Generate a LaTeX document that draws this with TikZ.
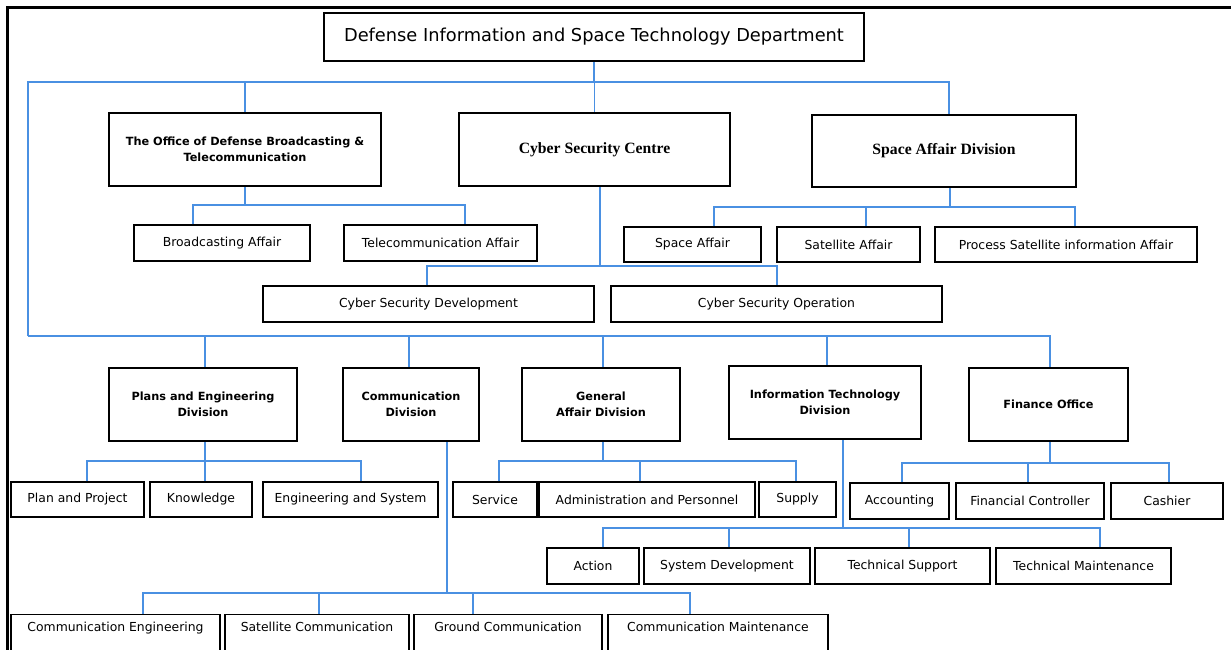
\documentclass[tikz,border=0pt]{standalone}
\usepackage{fontspec}
\setmainfont{DejaVu Sans}
\newfontfamily\serifbold{Liberation Serif}
\definecolor{linkblue}{RGB}{74,144,226}
\begin{document}
\begin{tikzpicture}[x=1pt,y=-1pt,
  conn/.style={draw=linkblue,line width=1.4pt},
  titlebox/.style={draw,line width=2.4pt,inner sep=0pt,font=\fontsize{17.8}{20}\selectfont},
  headbox/.style={draw,line width=2.4pt,inner sep=0pt,align=center,font=\fontsize{11.3}{16.5}\selectfont\bfseries},
  serifhead/.style={draw,line width=2.4pt,inner sep=0pt,align=center,font=\fontsize{15.7}{17}\selectfont\serifbold\bfseries},
  subbox/.style={draw,line width=1.1pt,inner sep=0pt,font=\fontsize{12.4}{14}\selectfont},
  lowbox/.style={draw,line width=1.1pt,inner xsep=0pt,inner ysep=9pt,anchor=north,text height=8pt,text depth=40pt,font=\fontsize{12.4}{14}\selectfont}]
\useasboundingbox (0,0) rectangle (1231,649);
\clip (0,0) rectangle (1231,649);
% frame
\draw[line width=3pt] (7.5,652) -- (7.5,7.5) -- (1233,7.5);
% boxes
\node[titlebox,minimum width=540pt,minimum height=48pt] (title) at (594,37) {\raisebox{3pt}{Defense Information and Space Technology Department}};
\node[headbox,minimum width=272pt,minimum height=73pt] (office) at (245,149.5) {The Office of Defense Broadcasting \&\\Telecommunication};
\node[serifhead,minimum width=271pt,minimum height=73pt] (cyber) at (594.5,149.5) {Cyber Security Centre};
\node[serifhead,minimum width=264pt,minimum height=72pt] (space) at (944,151) {Space Affair Division};
\node[subbox,minimum width=176pt,minimum height=36pt] (broad) at (222,243) {Broadcasting Affair};
\node[subbox,minimum width=193pt,minimum height=36pt] (telecom) at (440.5,243) {Telecommunication Affair};
\node[subbox,minimum width=137pt,minimum height=35pt] (spaceA) at (692.5,244.5) {Space Affair};
\node[subbox,minimum width=143pt,minimum height=35pt] (satA) at (848.5,244.5) {Satellite Affair};
\node[subbox,minimum width=262pt,minimum height=35pt] (proc) at (1066,244.5) {Process Satellite information Affair};
\node[subbox,minimum width=331pt,minimum height=36pt] (csd) at (428.5,304) {Cyber Security Development};
\node[subbox,minimum width=331pt,minimum height=36pt] (cso) at (776.5,304) {Cyber Security Operation};
\node[headbox,minimum width=188pt,minimum height=73pt] (plans) at (203,404.5) {Plans and Engineering\\Division};
\node[headbox,minimum width=136pt,minimum height=73pt] (comm) at (411,404.5) {Communication\\Division};
\node[headbox,minimum width=158pt,minimum height=73pt] (gen) at (601,404.5) {General\\Affair Division};
\node[headbox,minimum width=192pt,minimum height=73pt] (it) at (825,402.5) {Information Technology\\Division};
\node[headbox,minimum width=159pt,minimum height=73pt] (fin) at (1048.5,404.5) {Finance Office};
\node[subbox,minimum width=133pt,minimum height=35pt] (pp) at (77.5,499.5) {Plan and Project};
\node[subbox,minimum width=102pt,minimum height=35pt] (know) at (201,499.5) {Knowledge};
\node[subbox,minimum width=175pt,minimum height=35pt] (eng) at (350.5,499.5) {Engineering and System};
\node[subbox,minimum width=84pt,minimum height=35pt] (serv) at (495,499.5) {Service};
\node[subbox,minimum width=216pt,minimum height=35pt] (admin) at (647,499.5) {Administration and Personnel};
\node[subbox,minimum width=77pt,minimum height=35pt] (supply) at (797.5,499.5) {Supply};
\node[subbox,minimum width=99pt,minimum height=36pt] (acc) at (899.5,501) {Accounting};
\node[subbox,minimum width=148pt,minimum height=36pt] (fc) at (1030,501) {Financial Controller};
\node[subbox,minimum width=112pt,minimum height=36pt] (cash) at (1167,501) {Cashier};
\node[subbox,minimum width=92pt,minimum height=36pt] (action) at (593,566) {Action};
\node[subbox,minimum width=166pt,minimum height=36pt] (sysdev) at (727,566) {System Development};
\node[subbox,minimum width=175pt,minimum height=36pt] (tsup) at (902.5,566) {Technical Support};
\node[subbox,minimum width=175pt,minimum height=36pt] (tmain) at (1083.5,566) {Technical Maintenance};
\node[lowbox,minimum width=209pt] (ceng) at (115.5,614) {Communication Engineering};
\node[lowbox,minimum width=184pt] (scomm) at (317,614) {Satellite Communication};
\node[lowbox,minimum width=188pt] (gcomm) at (508,614) {Ground Communication};
\node[lowbox,minimum width=220pt] (cmain) at (718,614) {Communication Maintenance};
% junction coordinates
\coordinate (busTL) at (28,82);
\coordinate (busTR) at (949,82);
\coordinate (busLL) at (28,336);
\coordinate (busLR) at (1050,336);
% top bus
\draw[conn] (title.south) -- (title.south |- busTL);
\draw[conn] (busLL) -- (busTL) -- (busTR) -- (busTR |- space.north);
\draw[conn] (office.north |- busTL) -- (office.north);
\draw[conn] (cyber.north |- busTL) -- (cyber.north);
% office children
\coordinate (oL) at (193,205); \coordinate (oR) at (465,205);
\draw[conn] (office.south) -- (office.south |- oL);
\draw[conn] (oL |- broad.north) -- (oL) -- (oR) -- (oR |- telecom.north);
% cyber children
\coordinate (cS) at (600,266); \coordinate (cL) at (427,266); \coordinate (cR) at (777,266);
\draw[conn] (cS |- cyber.south) -- (cS);
\draw[conn] (cL |- csd.north) -- (cL) -- (cR) -- (cR |- cso.north);
% space children
\coordinate (sS) at (950,207); \coordinate (sL) at (714,207); \coordinate (sM) at (866,207); \coordinate (sR) at (1075,207);
\draw[conn] (sS |- space.south) -- (sS);
\draw[conn] (sL |- spaceA.north) -- (sL) -- (sR) -- (sR |- proc.north);
\draw[conn] (sM) -- (sM |- satA.north);
% lower bus
\draw[conn] (busLL) -- (busLR) -- (busLR |- fin.north);
\coordinate (b1) at (205,336); \coordinate (b2) at (409,336); \coordinate (b3) at (603,336); \coordinate (b4) at (827,336);
\draw[conn] (b1) -- (b1 |- plans.north);
\draw[conn] (b2) -- (b2 |- comm.north);
\draw[conn] (b3) -- (b3 |- gen.north);
\draw[conn] (b4) -- (b4 |- it.north);
% plans children
\coordinate (pS) at (205,461); \coordinate (pL) at (87,461); \coordinate (pR) at (361,461);
\draw[conn] (pS |- plans.south) -- (pS) -- (pS |- know.north);
\draw[conn] (pL |- pp.north) -- (pL) -- (pR) -- (pR |- eng.north);
% general children
\coordinate (gS) at (603,461); \coordinate (gL) at (499,461); \coordinate (gM) at (640,461); \coordinate (gR) at (796,461);
\draw[conn] (gS |- gen.south) -- (gS);
\draw[conn] (gL |- serv.north) -- (gL) -- (gR) -- (gR |- supply.north);
\draw[conn] (gM) -- (gM |- admin.north);
% finance children
\coordinate (fS) at (1050,463); \coordinate (fL) at (902,463); \coordinate (fM) at (1028,463); \coordinate (fR) at (1169,463);
\draw[conn] (fS |- fin.south) -- (fS);
\draw[conn] (fL |- acc.north) -- (fL) -- (fR) -- (fR |- cash.north);
\draw[conn] (fM) -- (fM |- fc.north);
% IT children
\coordinate (iS) at (843,528); \coordinate (i1) at (603,528); \coordinate (i2) at (729,528); \coordinate (i3) at (909,528); \coordinate (i4) at (1100,528);
\draw[conn] (iS |- it.south) -- (iS);
\draw[conn] (i1 |- action.north) -- (i1) -- (i4) -- (i4 |- tmain.north);
\draw[conn] (i2) -- (i2 |- sysdev.north);
\draw[conn] (i3) -- (i3 |- tsup.north);
% communication children
\coordinate (mS) at (447,593); \coordinate (m1) at (143,593); \coordinate (m2) at (319,593); \coordinate (m3) at (473,593); \coordinate (m4) at (690,593);
\draw[conn] (mS |- comm.south) -- (mS);
\draw[conn] (m1 |- ceng.north) -- (m1) -- (m4) -- (m4 |- cmain.north);
\draw[conn] (m2) -- (m2 |- scomm.north);
\draw[conn] (m3) -- (m3 |- gcomm.north);
\end{tikzpicture}
\end{document}
